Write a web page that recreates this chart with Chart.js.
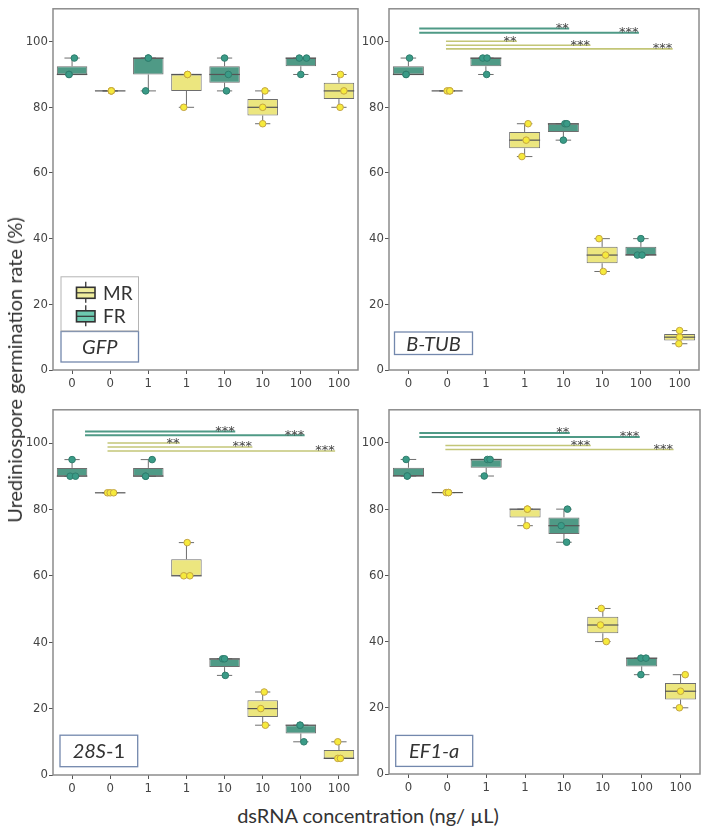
<!DOCTYPE html>
<html>
<head>
<meta charset="utf-8">
<script src="https://cdn.jsdelivr.net/npm/chart.js@4.4.1/dist/chart.umd.min.js"></script>
<style>
  body { margin: 0; background: #fff; }
  #wrap { position: relative; width: 709px; height: 836px; overflow: hidden; background: #fff; }
  #wrap canvas { position: absolute; }
  .title { position: absolute; font-family: Lato, "Open Sans", sans-serif; color: #333; font-size: 20px; white-space: nowrap; line-height: 24px; }
  #ytitle { left: 14px; top: 370px; transform: translate(-50%, -50%) rotate(-90deg); }
  #xtitle { left: 368px; top: 803px; transform: translateX(-50%); }
</style>
</head>
<body>
<div id="wrap">
  <canvas id="c1"></canvas>
  <canvas id="c2"></canvas>
  <canvas id="c3"></canvas>
  <canvas id="c4"></canvas>
  <div class="title" id="ytitle">Urediniospore germination rate (%)</div>
  <div class="title" id="xtitle">dsRNA concentration (ng/ µL)</div>
</div>
<script>
// categories (dose) and group of each box, left to right
const doseLabels = ['0', '0', '1', '1', '10', '10', '100', '100'];
const groups = ['FR', 'MR', 'FR', 'MR', 'FR', 'MR', 'FR', 'MR'];
const yTicks = [0, 20, 40, 60, 80, 100];

// replicate values (%) for each box, plus horizontal jitter
const gfpValues = [[90, 90, 95], [85, 85, 85], [85, 95, 95], [80, 90, 90], [85, 90, 95], [75, 80, 85], [90, 95, 95], [80, 85, 90]];
const gfpJitter = [[-0.08, -0.08, 0.06], [0.03, 0.03, 0.03], [-0.07, 0, 0], [-0.07, 0.03, 0.03], [0.05, 0.1, 0], [0, 0, 0.06], [0, -0.04, 0.15], [0.03, 0.13, 0.04]];

const btubValues = [[90, 90, 95], [85, 85, 85], [90, 95, 95], [65, 70, 75], [70, 75, 75], [30, 35, 40], [35, 35, 40], [8, 10, 12]];
const btubJitter = [[-0.06, -0.06, 0.03], [0, 0.07, 0.07], [0.02, -0.08, 0.03], [-0.07, 0.04, 0.09], [0, 0.04, 0.09], [0.03, 0.09, -0.08], [-0.09, 0.03, 0], [-0.02, 0, 0]];

const s28Values = [[90, 90, 95], [85, 85, 85], [90, 90, 95], [60, 60, 70], [30, 35, 35], [15, 20, 25], [10, 15, 15], [5, 5, 10]];
const s28Jitter = [[-0.05, 0.09, 0], [-0.07, 0, 0.09], [-0.07, -0.07, 0.1], [-0.07, 0.09, 0.02], [0.02, -0.05, 0], [0.07, -0.05, 0.04], [0.08, -0.02, -0.02], [-0.03, 0.04, -0.03]];

const ef1Values = [[90, 90, 95], [85, 85, 85], [90, 95, 95], [75, 80, 80], [70, 75, 80], [40, 45, 50], [30, 35, 35], [20, 25, 30]];
const ef1Jitter = [[-0.03, -0.03, -0.06], [-0.03, 0.03, 0.03], [-0.05, 0.03, 0.1], [0.04, 0.06, 0.06], [0.07, -0.07, 0.09], [0.09, -0.06, -0.04], [-0.02, -0.02, 0.11], [-0.03, 0, 0.12]];

// significance brackets: from/to box position, height (%), label, group
const btubSigFrom = [0.28, 0.28, 0.97, 0.97, 0.97];
const btubSigTo = [4.15, 5.95, 2.8, 4.7, 6.82];
const btubSigY = [104, 102.7, 100.1, 98.9, 97.8];
const btubSigText = ['**', '***', '**', '***', '***'];
const btubSigGroup = ['FR', 'FR', 'MR', 'MR', 'MR'];

const s28SigFrom = [0.34, 0.34, 0.93, 0.93, 0.93];
const s28SigTo = [4.28, 6.1, 2.83, 4.73, 6.9];
const s28SigY = [103.5, 102.3, 100, 98.8, 97.6];
const s28SigText = ['***', '***', '**', '***', '***'];
const s28SigGroup = ['FR', 'FR', 'MR', 'MR', 'MR'];

const ef1SigFrom = [0.28, 0.28, 0.95, 0.95];
const ef1SigTo = [4.15, 5.95, 4.69, 6.82];
const ef1SigY = [103, 101.8, 99.2, 98];
const ef1SigText = ['**', '***', '***', '***'];
const ef1SigGroup = ['FR', 'FR', 'MR', 'MR'];

const legendLabels = ['MR', 'FR'];

const boxFill = { FR: '#4f9a86', MR: '#ece67f' };
const ptFill = { FR: '#3a9b87', MR: '#f6ea3c' };
const ptBorder = { FR: '#2f7d6d', MR: '#c4a544' };
const sigColor = { FR: '#4f9a86', MR: '#c3c677' };
const keyFill = { FR: '#6dc9b0', MR: '#efed9d' };
const tickFont = '"Liberation Sans Narrow", "DejaVu Sans Condensed", "Liberation Sans", sans-serif';
const textFont = 'Lato, "Open Sans", sans-serif';

function quantile(sorted, p) {
  const h = (sorted.length - 1) * p;
  const lo = Math.floor(h);
  const hi = Math.min(lo + 1, sorted.length - 1);
  return sorted[lo] + (h - lo) * (sorted[hi] - sorted[lo]);
}

function boxStats(vals) {
  const s = vals.slice().sort((a, b) => a - b);
  return { min: s[0], q1: quantile(s, 0.25), med: quantile(s, 0.5), q3: quantile(s, 0.75), max: s[s.length - 1] };
}

function makePanel(id, area, values, jitter, sig, label, showLegend) {
  const canvas = document.getElementById(id);
  const W = area.r - area.l + 47, H = area.b - area.t + 4 + 25;
  canvas.width = W; canvas.height = H;
  canvas.style.left = (area.l - 45) + 'px';
  canvas.style.top = (area.t - 4) + 'px';
  canvas.style.width = W + 'px';
  canvas.style.height = H + 'px';

  const stats = values.map(boxStats);
  const points = [], pBg = [], pBd = [];
  values.forEach((vs, i) => vs.forEach((v, j) => {
    points.push({ x: i + jitter[i][j], y: v });
    pBg.push(ptFill[groups[i]]);
    pBd.push(ptBorder[groups[i]]);
  }));

  const sigSets = sig ? sig.from.map((f, k) => ({
    type: 'line', xAxisID: 'xs', order: 2,
    data: [{ x: f, y: sig.y[k] }, { x: sig.to[k], y: sig.y[k] }],
    borderColor: sigColor[sig.group[k]], borderWidth: sig.group[k] === 'FR' ? 2 : 1.6,
    pointRadius: 0, fill: false
  })) : [];

  const extras = {
    id: 'extras',
    afterDatasetDraw(chart, args) {
      if (args.index !== 0) return;
      const ctx = chart.ctx, x = chart.scales.x, y = chart.scales.y;
      const bars = chart.getDatasetMeta(0).data;
      ctx.save();
      stats.forEach((s, i) => {
        const cx = x.getPixelForValue(i);
        const hw = bars[i].width / 2, cw = hw * 0.5;
        ctx.strokeStyle = '#6e6e6e';
        ctx.lineWidth = 1;
        ctx.beginPath();
        ctx.moveTo(cx, y.getPixelForValue(s.q3)); ctx.lineTo(cx, y.getPixelForValue(s.max));
        ctx.moveTo(cx, y.getPixelForValue(s.q1)); ctx.lineTo(cx, y.getPixelForValue(s.min));
        ctx.moveTo(cx - cw, y.getPixelForValue(s.max)); ctx.lineTo(cx + cw, y.getPixelForValue(s.max));
        ctx.moveTo(cx - cw, y.getPixelForValue(s.min)); ctx.lineTo(cx + cw, y.getPixelForValue(s.min));
        ctx.stroke();
        ctx.strokeStyle = '#555';
        ctx.lineWidth = 1.2;
        ctx.beginPath();
        ctx.moveTo(cx - hw, y.getPixelForValue(s.med)); ctx.lineTo(cx + hw, y.getPixelForValue(s.med));
        ctx.stroke();
      });
      ctx.restore();
    },
    afterDatasetsDraw(chart) {
      if (!sig) return;
      const ctx = chart.ctx, xs = chart.scales.xs, y = chart.scales.y;
      ctx.save();
      ctx.fillStyle = '#444';
      ctx.font = '13px "DejaVu Sans", sans-serif';
      ctx.textAlign = 'right';
      ctx.textBaseline = 'alphabetic';
      sig.text.forEach((t, k) => {
        ctx.fillText(t, xs.getPixelForValue(sig.to[k]) - 0.5, y.getPixelForValue(sig.y[k]) + 3.5);
      });
      ctx.restore();
    },
    afterDraw(chart) {
      const ctx = chart.ctx, a = chart.chartArea;
      ctx.save();
      // panel border
      ctx.strokeStyle = '#8c8c8c';
      ctx.lineWidth = 1.5;
      ctx.strokeRect(a.left, a.top, a.right - a.left, a.bottom - a.top);
      // gene label box
      const bx = a.left + label.dx, by = a.bottom - label.dy - label.h;
      ctx.fillStyle = '#fff';
      ctx.fillRect(bx, by, label.w, label.h);
      ctx.strokeStyle = '#7388ad';
      ctx.lineWidth = 1.3;
      ctx.strokeRect(bx, by, label.w, label.h);
      ctx.fillStyle = '#333';
      ctx.textBaseline = 'middle';
      ctx.textAlign = 'left';
      const fonts = label.parts.map(p => (p.it ? 'italic ' : '') + '20px ' + textFont);
      let total = 0;
      label.parts.forEach((p, k) => { ctx.font = fonts[k]; total += ctx.measureText(p.t).width; });
      let tx = bx + (label.w - total) / 2;
      label.parts.forEach((p, k) => {
        ctx.font = fonts[k];
        ctx.fillText(p.t, tx, by + label.h / 2 + 1);
        tx += ctx.measureText(p.t).width;
      });
      if (showLegend) {
        const lx = a.left + 8, ly = a.top + 268, lw = 77.5, lh = 54;
        ctx.fillStyle = '#fff';
        ctx.fillRect(lx, ly, lw, lh);
        ctx.strokeStyle = '#b4b4b4';
        ctx.lineWidth = 1;
        ctx.strokeRect(lx, ly, lw, lh);
        legendLabels.forEach((g, k) => {
          const cy = ly + 16 + k * 23.5, kx = lx + 15.5, kw = 18.5;
          ctx.strokeStyle = '#333';
          ctx.lineWidth = 1.3;
          ctx.beginPath();
          ctx.moveTo(kx + kw / 2, cy - 11); ctx.lineTo(kx + kw / 2, cy + 10);
          ctx.stroke();
          ctx.fillStyle = keyFill[g];
          ctx.fillRect(kx, cy - 5.5, kw, 11);
          ctx.lineWidth = 1.6;
          ctx.strokeRect(kx, cy - 5.5, kw, 11);
          ctx.lineWidth = 1.2;
          ctx.beginPath();
          ctx.moveTo(kx, cy); ctx.lineTo(kx + kw, cy);
          ctx.stroke();
          ctx.fillStyle = '#333';
          ctx.font = '19px ' + textFont;
          ctx.textAlign = 'left';
          ctx.textBaseline = 'middle';
          ctx.fillText(g, lx + 42, cy + 1);
        });
      }
      ctx.restore();
    }
  };

  return new Chart(canvas, {
    type: 'bar',
    data: {
      labels: doseLabels,
      datasets: [
        {
          type: 'bar', order: 3, grouped: false,
          data: stats.map(s => [s.q1, s.q3]),
          backgroundColor: groups.map(g => boxFill[g]),
          borderColor: '#6e6e6e', borderWidth: 1, borderSkipped: false,
          barPercentage: 0.8, categoryPercentage: 1
        },
        ...sigSets,
        {
          type: 'scatter', xAxisID: 'xs', order: 1,
          data: points,
          pointBackgroundColor: pBg, pointBorderColor: pBd,
          pointRadius: 3.3, pointBorderWidth: 1
        }
      ]
    },
    options: {
      responsive: false,
      animation: false,
      events: [],
      layout: { padding: { top: 4, right: 2, left: 0, bottom: 0 } },
      plugins: { legend: { display: false }, tooltip: { enabled: false } },
      scales: {
        x: {
          type: 'category', offset: true,
          grid: { display: true, offset: false, drawOnChartArea: false, drawTicks: true, tickLength: 4, color: '#555' },
          border: { display: false },
          ticks: { color: '#444', font: { family: tickFont, size: 13 }, padding: 2, maxRotation: 0, autoSkip: false },
          afterFit(s) { s.height = 25; }
        },
        xs: { type: 'linear', display: false, offset: false, min: -0.5, max: 7.5, grid: { offset: false } },
        y: {
          min: 0, max: 110,
          afterBuildTicks(s) { s.ticks = yTicks.map(v => ({ value: v })); },
          grid: { display: true, drawOnChartArea: false, drawTicks: true, tickLength: 4, color: '#555' },
          border: { display: false },
          ticks: { color: '#444', font: { family: tickFont, size: 13 }, padding: 1 },
          afterFit(s) { s.width = 45; }
        }
      }
    },
    plugins: [extras]
  });
}

makePanel('c1', { l: 53, t: 4, r: 361, b: 370 }, gfpValues, gfpJitter, null,
  { dx: 8, dy: 8, w: 77.5, h: 30.5, parts: [{ t: 'GFP', it: true }] }, true);
makePanel('c2', { l: 389, t: 4, r: 702, b: 370 }, btubValues, btubJitter,
  { from: btubSigFrom, to: btubSigTo, y: btubSigY, text: btubSigText, group: btubSigGroup },
  { dx: 5.5, dy: 15.5, w: 78, h: 22.5, parts: [{ t: 'B-TUB', it: true }] }, false);
makePanel('c3', { l: 53, t: 405, r: 361, b: 775 }, s28Values, s28Jitter,
  { from: s28SigFrom, to: s28SigTo, y: s28SigY, text: s28SigText, group: s28SigGroup },
  { dx: 7, dy: 8.3, w: 77.7, h: 31.5, parts: [{ t: '28S', it: true }, { t: '-1', it: false }] }, false);
makePanel('c4', { l: 389, t: 405, r: 703, b: 774 }, ef1Values, ef1Jitter,
  { from: ef1SigFrom, to: ef1SigTo, y: ef1SigY, text: ef1SigText, group: ef1SigGroup },
  { dx: 6.7, dy: 7.6, w: 77, h: 31, parts: [{ t: 'EF1-a', it: true }] }, false);
</script>
</body>
</html>
